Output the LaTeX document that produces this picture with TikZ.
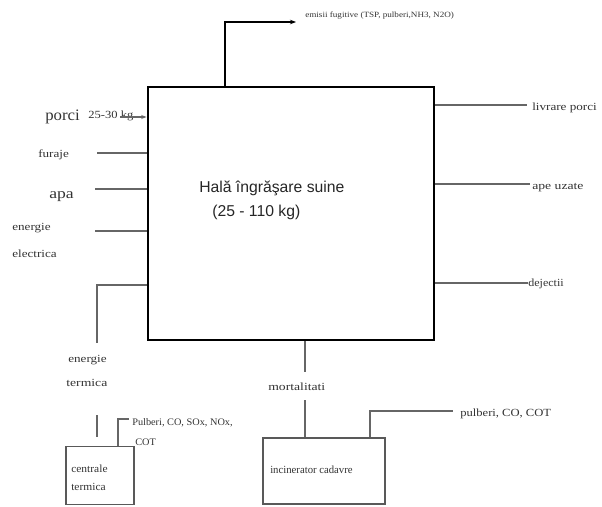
\documentclass[tikz,border=0pt]{standalone}
\usepackage{fontspec}
\setmainfont{Liberation Serif}
\newfontfamily\titlefont{Liberation Sans}
\usetikzlibrary{arrows.meta}
\begin{document}
\begin{tikzpicture}[x=0.75pt,y=-0.75pt,
  lbl/.style={anchor=west, inner sep=0pt, text=black!80, font=\fontsize{8.2}{10}\selectfont},
  ttl/.style={anchor=west, inner sep=0pt, text=black!85, font=\titlefont\fontsize{11.8}{14}\selectfont},
  flow/.style={draw=black!60, line width=0.9pt},
  mainbox/.style={draw=black, line width=2.2pt, inner sep=0pt, minimum width=214.5pt, minimum height=189.75pt},
  smallbox/.style={draw=black!65, line width=0.9pt, inner sep=0pt},
]
\useasboundingbox (0,0) rectangle (602,506);
% main box
\node[mainbox] (hala) at (291,213.5) {};
\node[ttl] (title) at (199,188) {Hală îngrăşare suine};
\node[ttl] (title2) at (212,212) {(25 - 110 kg)};
% top emission
\coordinate (e0) at (225,22);
\coordinate (e1) at (296,22);
\node[lbl, font=\fontsize{6}{7}\selectfont, xscale=1.14] (emisii) at (305,16) {emisii fugitive (TSP, pulberi,NH3, N2O)};
\draw[black, line width=1pt, -{Stealth[length=4.5pt]}] (hala.north -| e0) -- (e0) -- (e1);
% left inputs
\node[lbl, font=\fontsize{12}{14}\selectfont, xscale=1.05] (porci) at (45,117) {porci};
\node[lbl, xscale=1.15] (kg) at (88,116) {25-30 kg};
\coordinate (p0) at (120,117);
\draw[flow, -{Stealth[length=4pt]}] (p0) -- (p0 -| hala.west);
\node[lbl, xscale=1.2] (furaje) at (38,155) {furaje};
\coordinate (f0) at (97,153);
\draw[flow] (f0) -- (f0 -| hala.west);
\node[lbl, font=\fontsize{11}{13}\selectfont, xscale=1.2] (apa) at (49,197) {apa};
\coordinate (a0) at (95,189);
\draw[flow] (a0) -- (a0 -| hala.west);
\node[lbl, xscale=1.2] (ee1) at (12,228) {energie};
\node[lbl, xscale=1.2] (ee2) at (12,254) {electrica};
\coordinate (ee0) at (95,231);
\draw[flow] (ee0) -- (ee0 -| hala.west);
% right outputs
\coordinate (l0) at (527,105);
\node[lbl, xscale=1.2] (livrare) at (532,108) {livrare porci};
\draw[flow] (l0 -| hala.east) -- (l0);
\coordinate (u0) at (530,184);
\node[lbl, xscale=1.25] (ape) at (532,188) {ape uzate};
\draw[flow] (u0 -| hala.east) -- (u0);
\coordinate (d0) at (528,283);
\node[lbl, xscale=1.1] (dejectii) at (528,284) {dejectii};
\draw[flow] (d0 -| hala.east) -- (d0);
% energie termica
\coordinate (t0) at (97,285);
\coordinate (t1) at (97,343);
\draw[flow] (t0 -| hala.west) -- (t0) -- (t1);
\node[lbl, xscale=1.2] (et1) at (68,360) {energie};
\node[lbl, xscale=1.25] (et2) at (66,383) {termica};
\coordinate (t2) at (97,415);
\coordinate (t3) at (97,437);
\draw[flow] (t2) -- (t3);
% centrale termica
\node[smallbox, minimum width=51pt, minimum height=43pt] (centrale) at (100,475.5) {};
\node[lbl, xscale=1.05] (ct1) at (71,469) {centrale};
\node[lbl, xscale=1.05] (ct2) at (71,487) {termica};
\coordinate (c0) at (118,419);
\coordinate (c1) at (129,419);
\draw[flow] (centrale.north -| c0) -- (c0) -- (c1);
\node[lbl, font=\fontsize{7.5}{9}\selectfont, xscale=1.03] (pulb1) at (132,423) {Pulberi, CO, SOx, NOx,};
\node[lbl, font=\fontsize{7.5}{9}\selectfont, xscale=1.03] (pulb2) at (135,442) {COT};
% mortalitati
\coordinate (m0) at (305,372);
\draw[flow] (m0 |- hala.south) -- (m0);
\node[lbl, xscale=1.25] (mort) at (268,387) {mortalitati};
\coordinate (m1) at (305,400);
% incinerator
\node[smallbox, minimum width=91.5pt, minimum height=49.5pt] (incin) at (324,471) {};
\draw[flow] (m1) -- (m1 |- incin.north);
\node[lbl, xscale=0.98] (incint) at (270,470) {incinerator cadavre};
\coordinate (i0) at (370,411);
\coordinate (i1) at (453,411);
\draw[flow] (incin.north -| i0) -- (i0) -- (i1);
\node[lbl, xscale=1.15] (pulb3) at (460,414) {pulberi, CO, COT};
\end{tikzpicture}
\end{document}
